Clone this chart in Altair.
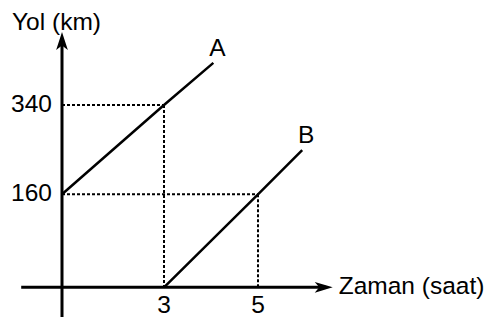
import altair as alt
import pandas as pd

# --- data ---
a_time = [0, 3, 4.05]
a_dist = [160, 340, 425]
b_time = [3, 5, 5.94]
b_dist = [0, 160, 249]

tick_times = [3, 5]
tick_dists = [160, 340]

guide_x = [0, 3, 0, 5]
guide_x2 = [3, 3, 5, 5]
guide_y = [340, 340, 160, 160]
guide_y2 = [340, 0, 160, 0]

x_axis_extent = [-1.2, 6.45]
x_arrow_tip = 6.59
y_axis_extent = [-51, 470]
y_arrow_tip = 487

line_names = ["A", "B"]

# --- scales (schematic, piecewise) ---
xs = alt.Scale(domain=[0, 3, 5], range=[54, 156, 250], nice=False, zero=False)
ys = alt.Scale(domain=[0, 160, 340], range=[279.3, 186.3, 97], nice=False, zero=False)

FONT = "Liberation Sans"
FS = 24.5

lines_df = pd.DataFrame(
    {"t": a_time + b_time, "d": a_dist + b_dist,
     "name": ["A"] * len(a_time) + ["B"] * len(b_time),
     "o": list(range(len(a_time))) + list(range(len(b_time)))}
)
guides_df = pd.DataFrame({"x": guide_x, "x2": guide_x2, "y": guide_y, "y2": guide_y2})

lines = alt.Chart(lines_df).mark_line(color="black", strokeWidth=2.5).encode(
    x=alt.X("t:Q", scale=xs, axis=None),
    y=alt.Y("d:Q", scale=ys, axis=None),
    detail="name:N",
    order="o:Q",
)

guides = alt.Chart(guides_df).mark_rule(color="black", strokeWidth=2, strokeDash=[3, 2]).encode(
    x=alt.X("x:Q", scale=xs, axis=None), x2="x2:Q",
    y=alt.Y("y:Q", scale=ys, axis=None), y2="y2:Q",
)

xaxis_df = pd.DataFrame({"x": [x_axis_extent[0]], "x2": [x_axis_extent[1]], "y": [0]})
xaxis = alt.Chart(xaxis_df).mark_rule(color="black", strokeWidth=3).encode(
    x=alt.X("x:Q", scale=xs, axis=None), x2="x2:Q",
    y=alt.Y("y:Q", scale=ys, axis=None),
)
yaxis_df = pd.DataFrame({"x": [0], "y": [y_axis_extent[0]], "y2": [y_axis_extent[1]]})
yaxis = alt.Chart(yaxis_df).mark_rule(color="black", strokeWidth=3).encode(
    x=alt.X("x:Q", scale=xs, axis=None),
    y=alt.Y("y:Q", scale=ys, axis=None), y2="y2:Q",
)

xarrow = alt.Chart(pd.DataFrame({"x": [x_arrow_tip], "y": [0]})).mark_point(
    shape="M0,0 L-2,-0.6 L-1.5,0 L-2,0.6 Z", size=324, filled=True, color="black", opacity=1, strokeWidth=0
).encode(x=alt.X("x:Q", scale=xs, axis=None), y=alt.Y("y:Q", scale=ys, axis=None))

yarrow = alt.Chart(pd.DataFrame({"x": [0], "y": [y_arrow_tip]})).mark_point(
    shape="M0,0 L-0.65,2 L0,1.5 L0.65,2 Z", size=324, filled=True, color="black", opacity=1, strokeWidth=0
).encode(x=alt.X("x:Q", scale=xs, axis=None), y=alt.Y("y:Q", scale=ys, axis=None))

xticks = alt.Chart(pd.DataFrame({"t": tick_times, "y": [0] * len(tick_times),
                                 "lab": [str(v) for v in tick_times]})).mark_text(
    font=FONT, fontSize=FS, color="black", align="center", baseline="middle", dy=19
).encode(x=alt.X("t:Q", scale=xs, axis=None), y=alt.Y("y:Q", scale=ys, axis=None), text="lab:N")

yticks = alt.Chart(pd.DataFrame({"x": [0] * len(tick_dists), "d": tick_dists,
                                 "lab": [str(v) for v in tick_dists]})).mark_text(
    font=FONT, fontSize=FS, color="black", align="right", baseline="middle", dx=-10
).encode(x=alt.X("x:Q", scale=xs, axis=None), y=alt.Y("d:Q", scale=ys, axis=None), text="lab:N")

ends_df = pd.DataFrame({"t": [a_time[-1], b_time[-1]], "d": [a_dist[-1], b_dist[-1]], "name": line_names})
name_labels = alt.Chart(ends_df).mark_text(
    font=FONT, fontSize=FS, color="black", align="center", baseline="middle", dx=4, dy=-14
).encode(x=alt.X("t:Q", scale=xs, axis=None), y=alt.Y("d:Q", scale=ys, axis=None), text="name:N")

xtitle = alt.Chart(pd.DataFrame({"x": [x_arrow_tip], "y": [0], "lab": ["Zaman (saat)"]})).mark_text(
    font=FONT, fontSize=FS, color="black", align="left", baseline="middle", dx=6
).encode(x=alt.X("x:Q", scale=xs, axis=None), y=alt.Y("y:Q", scale=ys, axis=None), text="lab:N")

ytitle = alt.Chart(pd.DataFrame({"x": [0], "y": [y_arrow_tip], "lab": ["Yol (km)"]})).mark_text(
    font=FONT, fontSize=FS, color="black", align="left", baseline="middle", dx=-50, dy=-9
).encode(x=alt.X("x:Q", scale=xs, axis=None), y=alt.Y("y:Q", scale=ys, axis=None), text="lab:N")

chart = alt.layer(
    guides, lines, xaxis, yaxis, xarrow, yarrow, xticks, yticks, name_labels, xtitle, ytitle
).properties(
    width=487, height=312, autosize=alt.AutoSizeParams(type="none"), padding=0, background="white"
).configure_view(strokeWidth=0, stroke="transparent")

chart.save("out.html", embed_options={"renderer": "svg", "actions": False})
